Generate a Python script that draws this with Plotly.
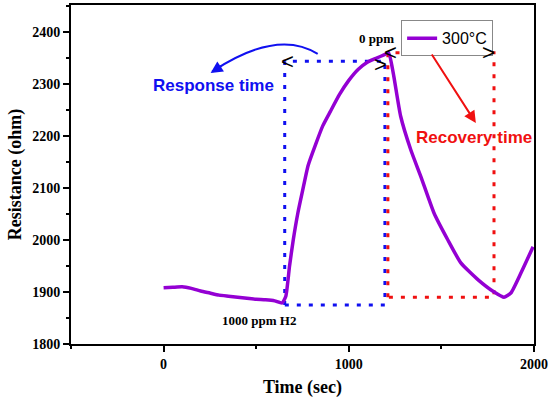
import plotly.graph_objects as go

# ---- data ----
time_s = [0, 50, 100, 150, 200, 250, 300, 350, 400, 450, 500, 550, 600, 640, 660, 680, 700,
          725, 750, 780, 820, 860, 900, 950, 1000, 1050, 1100, 1150, 1190, 1215, 1240, 1280,
          1335, 1390, 1460, 1535, 1605, 1700, 1785, 1838, 1875, 1930, 1995]
resistance = [1908, 1909, 1910, 1907, 1902, 1898, 1894, 1892, 1890, 1888, 1886, 1885, 1883,
              1879, 1892, 1950, 2000, 2052, 2094, 2143, 2183, 2220, 2247, 2280, 2307, 2328,
              2342, 2350, 2356, 2360, 2321, 2238, 2173, 2121, 2052, 2000, 1956, 1923, 1900,
              1890, 1898, 1937, 1987]
series_name = "300°C"

# response window (gas on -> saturation)
resp_t = [654, 1195]
resp_r = [1875, 2344]
# recovery window (gas off -> baseline)
rec_t = [1211, 1784]
rec_r = [1890, 2360]

x_ticks = [0, 1000, 2000]
y_ticks = [1800, 1900, 2000, 2100, 2200, 2300, 2400]

SERIF = "Liberation Serif"
SANS = "Liberation Sans"

fig = go.Figure()


def box(ts, rs, color):
    xs = [ts[0], ts[0], ts[1], ts[1], ts[0]]
    ys = [rs[0], rs[1], rs[1], rs[0], rs[0]]
    fig.add_trace(go.Scatter(x=xs, y=ys, mode="lines", showlegend=False, hoverinfo="skip",
                             line=dict(color=color, width=3, dash="4px,8px")))


box(resp_t, resp_r, "#1010F0")
box(rec_t, rec_r, "#F01010")

fig.add_trace(go.Scatter(x=time_s, y=resistance, mode="lines", name=series_name,
                         line=dict(color="#9400D3", width=3.5, shape="spline", smoothing=0.5)))

# bracket glyphs
for gx, gy, g in [(resp_t[0] + 16, resp_r[1], "<"), (resp_t[1] - 22, resp_r[1] - 6, ">"),
                  (rec_t[0] + 16, rec_r[1], "<"), (rec_t[1] - 32, rec_r[1], ">")]:
    fig.add_annotation(x=gx, y=gy, text=g, showarrow=False, xanchor="center", yanchor="middle",
                       font=dict(family=SANS, size=22, color="black"))

fig.add_annotation(x=270, y=2298, text="<b>Response time</b>", showarrow=False,
                   font=dict(family=SANS, size=17, color="#1010F0"))
fig.add_annotation(x=1676, y=2198, text="<b>Recovery time</b>", showarrow=False,
                   font=dict(family=SANS, size=17, color="#F01010"))
fig.add_annotation(x=1151, y=2387, text="<b>0 ppm</b>", showarrow=False,
                   font=dict(family=SERIF, size=13, color="black"))
fig.add_annotation(x=514, y=1846, text="<b>1000 ppm H2</b>", showarrow=False,
                   font=dict(family=SERIF, size=13, color="black"))

# curved blue arrow
fig.add_shape(type="path", xref="x", yref="y",
              path="M 832,2358 Q 614,2407 262,2324",
              line=dict(color="#1010F0", width=2))
fig.add_annotation(x=254, y=2321, ax=12, ay=-8, text="", showarrow=True, arrowhead=2,
                   arrowsize=1.2, arrowwidth=2, arrowcolor="#1010F0", standoff=0)
# straight red arrow
fig.add_annotation(x=1686, y=2225, ax=-45, ay=-70, text="", showarrow=True, arrowhead=2,
                   arrowsize=1.2, arrowwidth=2, arrowcolor="#F01010", standoff=0)

axis_common = dict(showline=True, linecolor="black", linewidth=2, mirror=True,
                   ticks="outside", ticklen=6, tickwidth=2, tickcolor="black",
                   showgrid=False, zeroline=False, automargin=False,
                   tickfont=dict(family=SERIF, size=14, color="black", weight="bold"))

fig.update_xaxes(range=[-500, 2000], tickvals=x_ticks,
                 minor=dict(ticks="outside", ticklen=3, tickwidth=2, tickcolor="black", dtick=500,
                            tick0=0, showgrid=False),
                 title=dict(text="<b>Time (sec)</b>", font=dict(family=SERIF, size=18, color="black"),
                            standoff=10),
                 **axis_common)
fig.update_yaxes(range=[1800, 2452], tickvals=y_ticks,
                 minor=dict(ticks="outside", ticklen=3, tickwidth=2, tickcolor="black", dtick=50,
                            tick0=1800, showgrid=False),
                 title=dict(text="<b>Resistance (ohm)</b>", font=dict(family=SERIF, size=18, color="black"),
                            standoff=6),
                 **axis_common)

fig.update_layout(width=550, height=398, margin=dict(l=71, r=16, t=5, b=54),
                  plot_bgcolor="white", paper_bgcolor="white",
                  legend=dict(x=0.713, y=0.955, xanchor="left", yanchor="top",
                              bordercolor="#888888", borderwidth=1, bgcolor="white",
                              font=dict(family=SANS, size=16, color="black"),
                              tracegroupgap=0, itemwidth=30))

fig.write_html("out.html", config={"displayModeBar": False},
               post_script="document.body.style.margin='0';document.body.style.overflow='hidden';")
